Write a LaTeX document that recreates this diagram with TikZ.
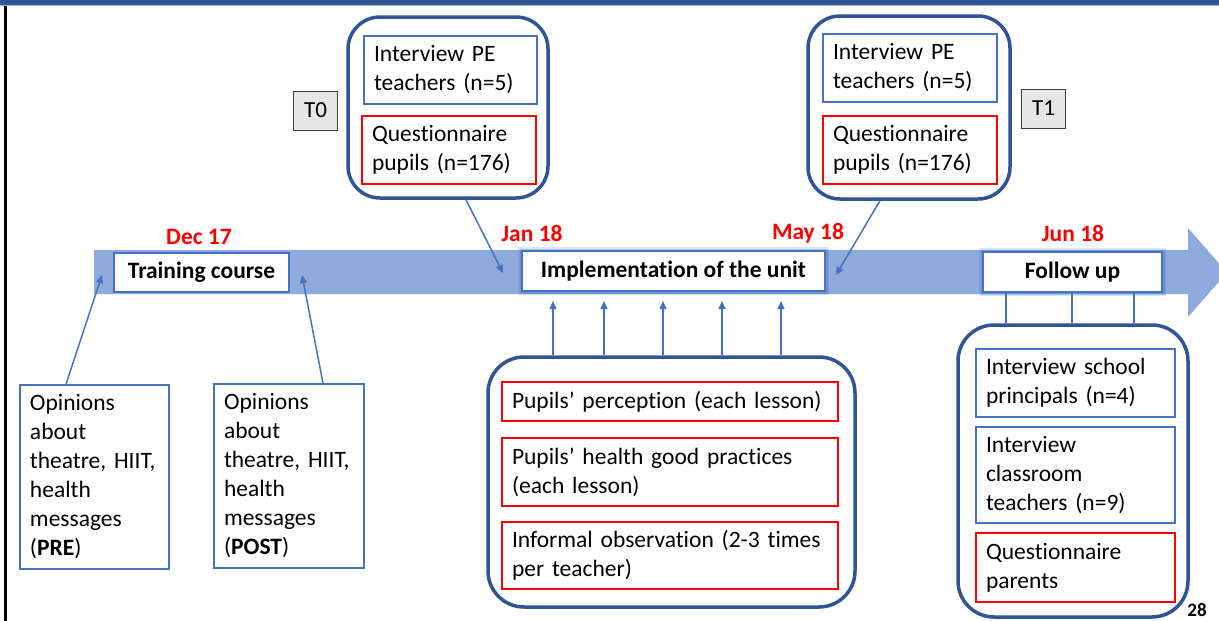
\documentclass[tikz,border=0pt]{standalone}
\usepackage{fontspec}
\setmainfont{Carlito}[Ligatures=NoCommon]
\usetikzlibrary{arrows.meta}
\definecolor{navy}{HTML}{2F5597}
\definecolor{boxblue}{HTML}{4472C4}
\definecolor{bandblue}{HTML}{8FAADC}
\definecolor{tgray}{HTML}{E7E6E6}
\definecolor{tedge}{HTML}{404040}
\definecolor{datered}{HTML}{FF0000}
\begin{document}
\begin{tikzpicture}[x=1pt,y=-1pt,
  every node/.style={font=\fontsize{23.5}{29}\selectfont, inner sep=0pt},
  group/.style={draw=navy, line width=3.5pt, rounded corners=32pt, fill=white},
  tbox/.style={draw=boxblue, line width=1.6pt, fill=white, align=left, inner xsep=10pt, inner ysep=0pt},
  rbox/.style={draw=datered, line width=1.6pt, fill=white, align=left, inner xsep=10pt, inner ysep=0pt},
  tlab/.style={draw=tedge, line width=1pt, fill=tgray, minimum width=44pt, minimum height=39pt, font=\fontsize{23}{27}\selectfont},
  date/.style={text=datered, font=\bfseries\fontsize{23.5}{29}\selectfont},
  stage/.style={draw=boxblue, line width=2pt, fill=white, font=\bfseries\fontsize{23.5}{29}\selectfont},
  glow/.style={preaction={draw=boxblue, line width=8pt, draw opacity=.18},
               preaction={draw=boxblue, line width=5pt, draw opacity=.3}},
  arr/.style={draw=boxblue, line width=1.5pt, -{Triangle[length=8pt,width=7pt]}},
  link/.style={draw=boxblue, line width=1.8pt}
]
\useasboundingbox (0,0) rectangle (1219,621);
\clip (0,0) rectangle (1219,621);
\fill[white] (0,0) rectangle (1219,621);

% header strip and left rule
\fill[navy] (0,0) rectangle (1219,5);
\draw[gray!60, line width=0.8pt] (0,5.5) -- (1219,5.5);
\draw[black, line width=3pt] (5,6) -- (5,621);

% timeline arrow
\fill[bandblue] (94,250) -- (1188,250) -- (1188,228) -- (1227,272.5)
  -- (1188,317) -- (1188,294) -- (94,294) -- cycle;

% stages on the timeline
\node[stage, minimum width=175pt, minimum height=39pt] (train) at (201.5,272.5) {Training course};
\node[stage, glow, minimum width=303pt, minimum height=40pt] (impl) at (673.5,271) {Implementation of the unit};
\node[stage, glow, minimum width=179pt, minimum height=40pt] (fu) at (1072.5,272) {Follow up};

% dates
\node[date] (dDec) at (199,237) {Dec 17};
\node[date] (dJan) at (532,233) {Jan 18};
\node[date] (dMay) at (808,233) {May 18};
\node[date] (dJun) at (1073,233) {Jun 18};

% time points
\node[tlab] (T0) at (315.5,110.5) {T0};
\node[tlab] (T1) at (1043.5,108.5) {T1};

% T0 measures
\node[group, minimum width=200pt, minimum height=181pt] (gA) at (448,107.5) {};
\node[tbox, minimum height=68pt, text width=153pt] (peA) at (450.5,70) {Interview PE\\teachers (n=5)};
\node[rbox, minimum height=68pt, text width=154pt] (qA) at (449,150) {Questionnaire\\pupils (n=176)};

% T1 measures
\node[group, minimum width=202pt, minimum height=183pt] (gB) at (909,107.5) {};
\node[tbox, minimum height=68pt, text width=154pt] (peB) at (910,68) {Interview PE\\teachers (n=5)};
\node[rbox, minimum height=68pt, text width=154pt] (qB) at (910,150) {Questionnaire\\pupils (n=176)};

% opinions before and after the course
\node[tbox, minimum height=184pt, text width=129pt] (pre) at (94.5,477) {Opinions\\about\\theatre, HIIT,\\health\\messages\\(\textbf{PRE})};
\node[tbox, minimum height=184pt, text width=130pt] (post) at (289,476) {Opinions\\about\\theatre, HIIT,\\health\\messages\\(\textbf{POST})};

% measures during the unit
\node[group, rounded corners=36pt, minimum width=367pt, minimum height=250pt] (gC) at (671.5,482) {};
\node[rbox, minimum height=39pt, text width=316pt] (c1) at (670,401.5) {Pupils’ perception (each lesson)};
\node[rbox, minimum height=68pt, text width=316pt] (c2) at (670,472) {Pupils’ health good practices\\(each lesson)};
\node[rbox, minimum height=67pt, text width=316pt] (c3) at (670,555.5) {Informal observation (2-3 times\\per teacher)};

% follow-up measures
\node[group, rounded corners=36pt, minimum width=230pt, minimum height=292pt] (gD) at (1073,471) {};
\node[tbox, minimum height=68pt, text width=179pt] (d1) at (1075.5,383) {Interview school\\principals (n=4)};
\node[tbox, minimum height=96pt, text width=179pt] (d2) at (1075.5,475) {Interview\\classroom\\teachers (n=9)};
\node[rbox, minimum height=69pt, text width=179pt] (d3) at (1075.5,567.5) {Questionnaire\\parents};

% arrow ends on the timeline
\coordinate (jA) at (503,273);
\coordinate (mB) at (836,275);
\coordinate (preE) at (102,275);
\coordinate (postE) at (302,275);

% connectors
\draw[arr] ([xshift=18pt]gA.south) -- (jA);
\draw[arr] ([xshift=-29pt]gB.south) -- (mB);
\draw[arr] ([xshift=-28.5pt]pre.north) -- (preE);
\draw[arr] ([xshift=34pt]post.north) -- (postE);
\foreach \x in {553,604,663,722,781}
  \draw[arr, shorten >=9pt] (\x,0 |- gC.north) -- (\x,0 |- impl.south);
\foreach \x in {1006,1072,1134}
  \draw[link] (\x,0 |- fu.south) -- (\x,0 |- gD.north);

% slide number
\node[font=\bfseries\fontsize{19}{23}\selectfont, anchor=base] (pg) at (1197,616) {28};
\end{tikzpicture}
\end{document}
